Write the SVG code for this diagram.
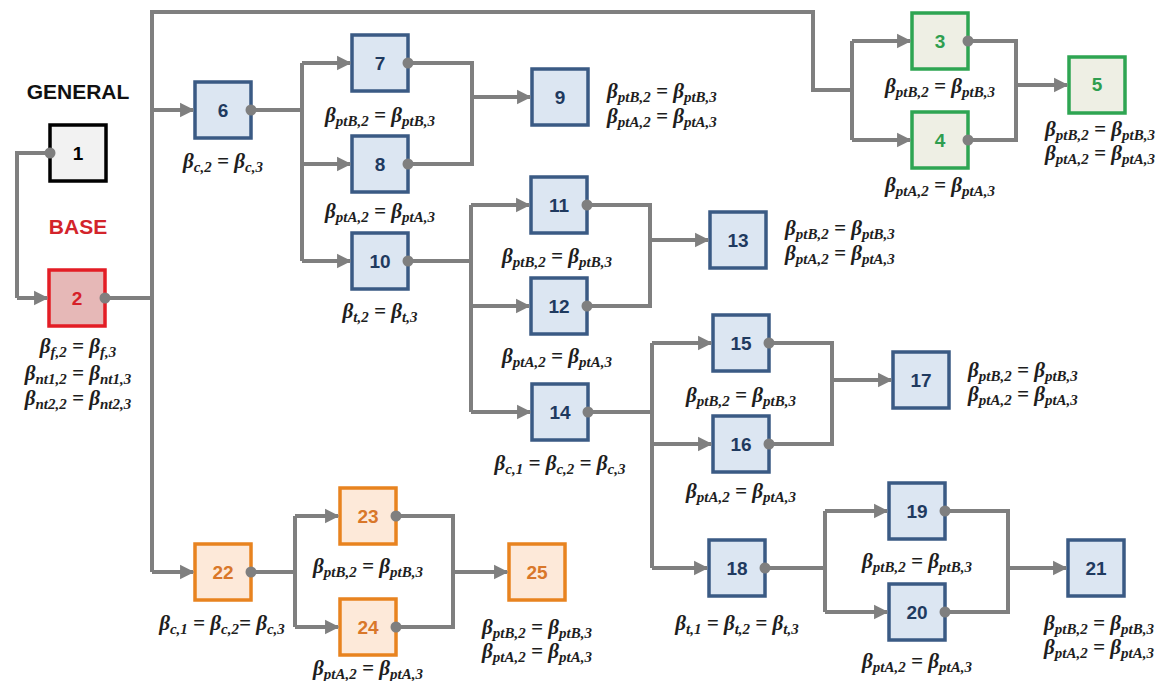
<svg xmlns="http://www.w3.org/2000/svg" width="1165" height="681" viewBox="0 0 1165 681">
<style>
.bx{stroke-width:3.5}
.blue rect{fill:#dce6f2;stroke:#3a5a84}
.blue .num{fill:#1f3a5f}
.green rect{fill:#eeefe4;stroke:#2ea552}
.green .num{fill:#2e9e4f}
.orange rect{fill:#fde9d9;stroke:#e8831f}
.orange .num{fill:#d9772a}
.num{font-family:"Liberation Sans",Arial,sans-serif;font-weight:bold;font-size:19px;text-anchor:middle}
.eq{font-family:"Liberation Serif","Times New Roman",serif;font-weight:bold;font-style:italic;font-size:21px;fill:#1e1e1e;text-anchor:middle}
.eqs{font-family:"Liberation Serif","Times New Roman",serif;font-weight:bold;font-style:italic;font-size:21px;fill:#1e1e1e;text-anchor:start}
.s{font-size:15px}
.ln{fill:none;stroke:#7f7f7f;stroke-width:4}
.ar{fill:none;stroke:#7f7f7f;stroke-width:4;marker-end:url(#arr)}
.dot{fill:#7f7f7f}
.title{font-family:"Liberation Sans",Arial,sans-serif;font-weight:bold;font-size:21px;text-anchor:middle}
</style>
<defs>
<marker id="arr" viewBox="0 0 10 10" refX="9" refY="5" markerWidth="3.6" markerHeight="4.2" orient="auto" markerUnits="strokeWidth">
<path d="M0,0 L10,5 L0,10 z" fill="#7f7f7f"/>
</marker>
</defs>
<rect width="1165" height="681" fill="#ffffff"/>

<text class="title" x="78" y="99" fill="#111">GENERAL</text>
<text class="title" x="78" y="234" fill="#d3242b">BASE</text>

<g id="n1"><rect class="bx" x="50" y="125" width="56" height="56" fill="#f2f2f2" stroke="#000"/><text class="num" x="78" y="160" fill="#000">1</text></g>
<g id="n2"><rect class="bx" x="49" y="270" width="56" height="56" fill="#e6b8b7" stroke="#e31d25"/><text class="num" x="77" y="305" fill="#d62028">2</text>
<text class="eq" x="78" y="353">β<tspan class="s" dy="4">f,2</tspan><tspan dy="-4"> = β</tspan><tspan class="s" dy="4">f,3</tspan></text>
<text class="eq" x="78" y="380">β<tspan class="s" dy="4">nt1,2</tspan><tspan dy="-4"> = β</tspan><tspan class="s" dy="4">nt1,3</tspan></text>
<text class="eq" x="78" y="405">β<tspan class="s" dy="4">nt2,2</tspan><tspan dy="-4"> = β</tspan><tspan class="s" dy="4">nt2,3</tspan></text></g>

<g id="n3" class="green"><rect class="bx" x="912" y="13" width="56" height="56"/><text class="num" x="940" y="48">3</text>
<text class="eq" x="940" y="93">β<tspan class="s" dy="4">ptB,2</tspan><tspan dy="-4"> = β</tspan><tspan class="s" dy="4">ptB,3</tspan></text></g>
<g id="n4" class="green"><rect class="bx" x="912" y="112" width="56" height="56"/><text class="num" x="940" y="147">4</text>
<text class="eq" x="940" y="192">β<tspan class="s" dy="4">ptA,2</tspan><tspan dy="-4"> = β</tspan><tspan class="s" dy="4">ptA,3</tspan></text></g>
<g id="n5" class="green"><rect class="bx" x="1069" y="57" width="56" height="56"/><text class="num" x="1097" y="91">5</text>
<text class="eq" x="1100" y="136">β<tspan class="s" dy="4">ptB,2</tspan><tspan dy="-4"> = β</tspan><tspan class="s" dy="4">ptB,3</tspan></text>
<text class="eq" x="1100" y="160">β<tspan class="s" dy="4">ptA,2</tspan><tspan dy="-4"> = β</tspan><tspan class="s" dy="4">ptA,3</tspan></text></g>

<g id="n6" class="blue"><rect class="bx" x="195" y="82" width="56" height="56"/><text class="num" x="223" y="117">6</text>
<text class="eq" x="223" y="168">β<tspan class="s" dy="4">c,2</tspan><tspan dy="-4"> = β</tspan><tspan class="s" dy="4">c,3</tspan></text></g>
<g id="n7" class="blue"><rect class="bx" x="352" y="35" width="56" height="56"/><text class="num" x="380" y="70">7</text>
<text class="eq" x="380" y="122">β<tspan class="s" dy="4">ptB,2</tspan><tspan dy="-4"> = β</tspan><tspan class="s" dy="4">ptB,3</tspan></text></g>
<g id="n8" class="blue"><rect class="bx" x="352" y="136" width="56" height="56"/><text class="num" x="380" y="171">8</text>
<text class="eq" x="380" y="218">β<tspan class="s" dy="4">ptA,2</tspan><tspan dy="-4"> = β</tspan><tspan class="s" dy="4">ptA,3</tspan></text></g>
<g id="n9" class="blue"><rect class="bx" x="532" y="69" width="56" height="56"/><text class="num" x="560" y="104">9</text>
<text class="eqs" x="607" y="98">β<tspan class="s" dy="4">ptB,2</tspan><tspan dy="-4"> = β</tspan><tspan class="s" dy="4">ptB,3</tspan></text>
<text class="eqs" x="607" y="123">β<tspan class="s" dy="4">ptA,2</tspan><tspan dy="-4"> = β</tspan><tspan class="s" dy="4">ptA,3</tspan></text></g>
<g id="n10" class="blue"><rect class="bx" x="352" y="233" width="56" height="56"/><text class="num" x="380" y="268">10</text>
<text class="eq" x="380" y="318">β<tspan class="s" dy="4">t,2</tspan><tspan dy="-4"> = β</tspan><tspan class="s" dy="4">t,3</tspan></text></g>
<g id="n11" class="blue"><rect class="bx" x="531" y="177" width="56" height="56"/><text class="num" x="559" y="212">11</text>
<text class="eq" x="557" y="263">β<tspan class="s" dy="4">ptB,2</tspan><tspan dy="-4"> = β</tspan><tspan class="s" dy="4">ptB,3</tspan></text></g>
<g id="n12" class="blue"><rect class="bx" x="531" y="278" width="56" height="56"/><text class="num" x="559" y="313">12</text>
<text class="eq" x="557" y="363">β<tspan class="s" dy="4">ptA,2</tspan><tspan dy="-4"> = β</tspan><tspan class="s" dy="4">ptA,3</tspan></text></g>
<g id="n13" class="blue"><rect class="bx" x="710" y="212" width="56" height="56"/><text class="num" x="738" y="247">13</text>
<text class="eqs" x="785" y="235">β<tspan class="s" dy="4">ptB,2</tspan><tspan dy="-4"> = β</tspan><tspan class="s" dy="4">ptB,3</tspan></text>
<text class="eqs" x="785" y="260">β<tspan class="s" dy="4">ptA,2</tspan><tspan dy="-4"> = β</tspan><tspan class="s" dy="4">ptA,3</tspan></text></g>
<g id="n14" class="blue"><rect class="bx" x="532" y="384" width="56" height="56"/><text class="num" x="560" y="419">14</text>
<text class="eq" x="560" y="470">β<tspan class="s" dy="4">c,1</tspan><tspan dy="-4"> = β</tspan><tspan class="s" dy="4">c,2</tspan><tspan dy="-4"> = β</tspan><tspan class="s" dy="4">c,3</tspan></text></g>
<g id="n15" class="blue"><rect class="bx" x="713" y="315" width="56" height="56"/><text class="num" x="741" y="350">15</text>
<text class="eq" x="741" y="402">β<tspan class="s" dy="4">ptB,2</tspan><tspan dy="-4"> = β</tspan><tspan class="s" dy="4">ptB,3</tspan></text></g>
<g id="n16" class="blue"><rect class="bx" x="713" y="416" width="56" height="56"/><text class="num" x="741" y="451">16</text>
<text class="eq" x="741" y="498">β<tspan class="s" dy="4">ptA,2</tspan><tspan dy="-4"> = β</tspan><tspan class="s" dy="4">ptA,3</tspan></text></g>
<g id="n17" class="blue"><rect class="bx" x="893" y="352" width="56" height="56"/><text class="num" x="921" y="387">17</text>
<text class="eqs" x="968" y="377">β<tspan class="s" dy="4">ptB,2</tspan><tspan dy="-4"> = β</tspan><tspan class="s" dy="4">ptB,3</tspan></text>
<text class="eqs" x="968" y="401">β<tspan class="s" dy="4">ptA,2</tspan><tspan dy="-4"> = β</tspan><tspan class="s" dy="4">ptA,3</tspan></text></g>
<g id="n18" class="blue"><rect class="bx" x="709" y="540" width="56" height="56"/><text class="num" x="737" y="575">18</text>
<text class="eq" x="737" y="630">β<tspan class="s" dy="4">t,1</tspan><tspan dy="-4"> = β</tspan><tspan class="s" dy="4">t,2</tspan><tspan dy="-4"> = β</tspan><tspan class="s" dy="4">t,3</tspan></text></g>
<g id="n19" class="blue"><rect class="bx" x="889" y="483" width="56" height="56"/><text class="num" x="917" y="518">19</text>
<text class="eq" x="917" y="568">β<tspan class="s" dy="4">ptB,2</tspan><tspan dy="-4"> = β</tspan><tspan class="s" dy="4">ptB,3</tspan></text></g>
<g id="n20" class="blue"><rect class="bx" x="889" y="584" width="56" height="56"/><text class="num" x="917" y="619">20</text>
<text class="eq" x="917" y="668">β<tspan class="s" dy="4">ptA,2</tspan><tspan dy="-4"> = β</tspan><tspan class="s" dy="4">ptA,3</tspan></text></g>
<g id="n21" class="blue"><rect class="bx" x="1068" y="540" width="56" height="56"/><text class="num" x="1096" y="575">21</text>
<text class="eq" x="1099" y="630">β<tspan class="s" dy="4">ptB,2</tspan><tspan dy="-4"> = β</tspan><tspan class="s" dy="4">ptB,3</tspan></text>
<text class="eq" x="1099" y="654">β<tspan class="s" dy="4">ptA,2</tspan><tspan dy="-4"> = β</tspan><tspan class="s" dy="4">ptA,3</tspan></text></g>

<g id="n22" class="orange"><rect class="bx" x="195" y="544" width="56" height="56"/><text class="num" x="223" y="579">22</text>
<text class="eq" x="222" y="630">β<tspan class="s" dy="4">c,1</tspan><tspan dy="-4"> = β</tspan><tspan class="s" dy="4">c,2</tspan><tspan dy="-4">= β</tspan><tspan class="s" dy="4">c,3</tspan></text></g>
<g id="n23" class="orange"><rect class="bx" x="340" y="488" width="56" height="56"/><text class="num" x="368" y="523">23</text>
<text class="eq" x="368" y="573">β<tspan class="s" dy="4">ptB,2</tspan><tspan dy="-4"> = β</tspan><tspan class="s" dy="4">ptB,3</tspan></text></g>
<g id="n24" class="orange"><rect class="bx" x="340" y="599" width="56" height="56"/><text class="num" x="368" y="634">24</text>
<text class="eq" x="368" y="675">β<tspan class="s" dy="4">ptA,2</tspan><tspan dy="-4"> = β</tspan><tspan class="s" dy="4">ptA,3</tspan></text></g>
<g id="n25" class="orange"><rect class="bx" x="509" y="544" width="56" height="56"/><text class="num" x="537" y="579">25</text>
<text class="eq" x="537" y="634">β<tspan class="s" dy="4">ptB,2</tspan><tspan dy="-4"> = β</tspan><tspan class="s" dy="4">ptB,3</tspan></text>
<text class="eq" x="537" y="658">β<tspan class="s" dy="4">ptA,2</tspan><tspan dy="-4"> = β</tspan><tspan class="s" dy="4">ptA,3</tspan></text></g>

<g id="connectors">
<path class="ln" d="M50,153 H17 V298"/>
<path class="ar" d="M17,298 H47"/>
<path class="ln" d="M107,298 H152"/>
<path class="ln" d="M152,298 V12 H813 V90 H852"/>
<path class="ln" d="M852,41 V140"/>
<path class="ar" d="M852,41 H910"/>
<path class="ar" d="M852,140 H910"/>
<path class="ln" d="M970,41 H1016 V140 H970"/>
<path class="ar" d="M1016,85 H1067"/>
<path class="ar" d="M152,110 H193"/>
<path class="ln" d="M152,298 V572"/>
<path class="ar" d="M152,572 H193"/>
<path class="ln" d="M253,110 H302"/>
<path class="ln" d="M302,63 V261"/>
<path class="ar" d="M302,63 H350"/>
<path class="ar" d="M302,164 H350"/>
<path class="ar" d="M302,261 H350"/>
<path class="ln" d="M410,63 H472 V164 H410"/>
<path class="ar" d="M472,97 H530"/>
<path class="ln" d="M410,261 H471 V412"/>
<path class="ln" d="M471,205 V261"/>
<path class="ar" d="M471,205 H529"/>
<path class="ar" d="M471,306 H529"/>
<path class="ar" d="M471,412 H530"/>
<path class="ln" d="M589,205 H650 V306 H589"/>
<path class="ar" d="M650,240 H708"/>
<path class="ln" d="M590,412 H652"/>
<path class="ln" d="M652,343 V568"/>
<path class="ar" d="M652,343 H711"/>
<path class="ar" d="M652,444 H711"/>
<path class="ar" d="M652,568 H707"/>
<path class="ln" d="M771,343 H832 V444 H771"/>
<path class="ar" d="M832,380 H891"/>
<path class="ln" d="M767,568 H825"/>
<path class="ln" d="M825,511 V612"/>
<path class="ar" d="M825,511 H887"/>
<path class="ar" d="M825,612 H887"/>
<path class="ln" d="M947,511 H1008 V612 H947"/>
<path class="ar" d="M1008,568 H1066"/>
<path class="ln" d="M253,572 H295"/>
<path class="ln" d="M295,516 V627"/>
<path class="ar" d="M295,516 H338"/>
<path class="ar" d="M295,627 H338"/>
<path class="ln" d="M398,516 H453 V627 H398"/>
<path class="ar" d="M453,572 H507"/>
<circle class="dot" cx="50" cy="153" r="5.5"/>
<circle class="dot" cx="105" cy="298" r="5.5"/>
<circle class="dot" cx="968" cy="41" r="5.5"/>
<circle class="dot" cx="968" cy="140" r="5.5"/>
<circle class="dot" cx="251" cy="110" r="5.5"/>
<circle class="dot" cx="408" cy="63" r="5.5"/>
<circle class="dot" cx="408" cy="164" r="5.5"/>
<circle class="dot" cx="408" cy="261" r="5.5"/>
<circle class="dot" cx="587" cy="205" r="5.5"/>
<circle class="dot" cx="587" cy="306" r="5.5"/>
<circle class="dot" cx="588" cy="412" r="5.5"/>
<circle class="dot" cx="769" cy="343" r="5.5"/>
<circle class="dot" cx="769" cy="444" r="5.5"/>
<circle class="dot" cx="765" cy="568" r="5.5"/>
<circle class="dot" cx="945" cy="511" r="5.5"/>
<circle class="dot" cx="945" cy="612" r="5.5"/>
<circle class="dot" cx="251" cy="572" r="5.5"/>
<circle class="dot" cx="396" cy="516" r="5.5"/>
<circle class="dot" cx="396" cy="627" r="5.5"/>
</g>
</svg>
